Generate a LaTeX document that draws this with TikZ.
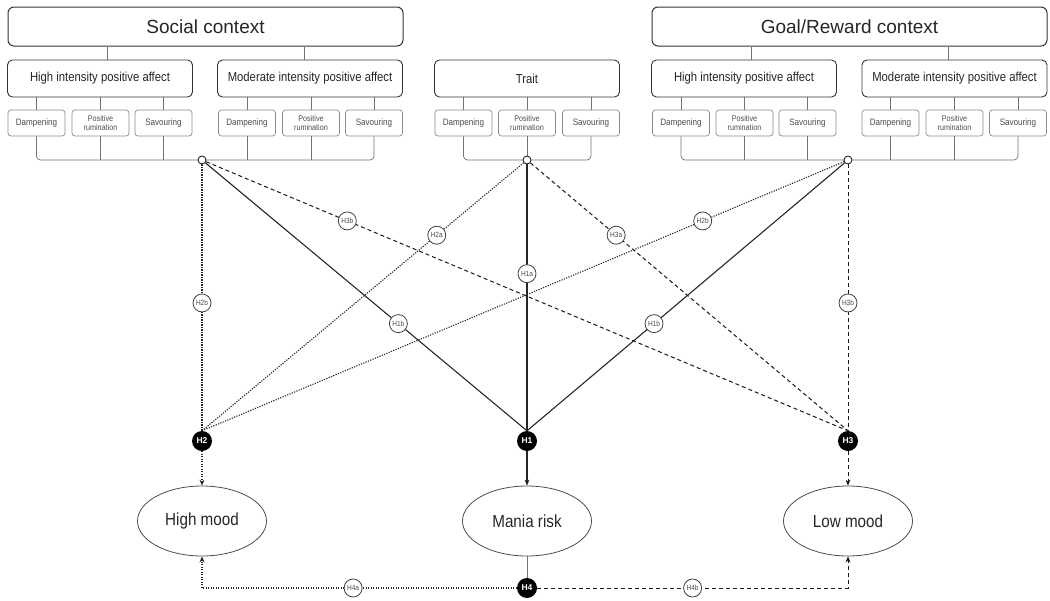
\documentclass[tikz,border=0pt]{standalone}
\usepackage{fontspec}
\usetikzlibrary{arrows.meta,shapes.geometric}
\newfontfamily\hfont{Liberation Sans}
\newfontfamily\nfont[FakeStretch=0.87]{Liberation Sans}
\begin{document}
\begin{tikzpicture}[x=1pt,y=-1pt,
  header/.style={draw=black!80,line width=1pt,rounded corners=6pt,minimum width=395pt,minimum height=39pt,inner sep=0pt,font=\hfont\fontsize{19}{22}\selectfont,text=black!85},
  midbox/.style={draw=black!80,line width=0.9pt,rounded corners=5pt,minimum width=185pt,minimum height=37pt,inner sep=0pt,font=\nfont\fontsize{13}{15}\selectfont,text=black!85},
  smallbox/.style={draw=black!45,line width=0.7pt,rounded corners=3pt,minimum width=57pt,minimum height=26pt,inner sep=0pt,font=\nfont\fontsize{9.3}{10}\selectfont,text=black!70,align=center},
  twobox/.style={smallbox,font=\nfont\fontsize{8.3}{8.8}\selectfont},
  conn/.style={draw=black!55,line width=0.7pt},
  src/.style={circle,draw=black!85,fill=white,line width=0.9pt,minimum size=8pt,inner sep=0pt},
  hyp/.style={circle,fill=black,text=white,minimum size=20pt,inner sep=0pt,font=\hfont\bfseries\fontsize{8.5}{9}\selectfont},
  lab/.style={circle,draw=black!75,fill=white,line width=0.8pt,minimum size=18pt,inner sep=0pt,font=\nfont\fontsize{7.5}{8}\selectfont,text=black!70},
  outc/.style={ellipse,draw=black!70,line width=0.8pt,minimum width=129pt,minimum height=70pt,inner sep=0pt,font=\nfont\fontsize{17.5}{20}\selectfont,text=black!85},
  solidl/.style={draw=black!85,line width=1.1pt},
  dashl/.style={draw=black!90,line width=1pt,dash pattern=on 4pt off 3pt},
  dotl/.style={draw=black!85,line width=1.1pt,dash pattern=on 1.2pt off 1.3pt},
  arr/.style={-{Stealth[length=6pt,width=5pt]}}
]
\useasboundingbox (0,0) rectangle (1050,600);

% ---- Social context group
\node[header] (soc) at (205.5,26.5) {Social context};
\node[midbox] (shi) at (100,78.5) {High intensity positive affect};
\node[midbox] (smo) at (310,78.5) {Moderate intensity positive affect};
\node[smallbox] (s1d) at (36.5,123) {Dampening};
\node[twobox] (s1p) at (100.5,123) {Positive\\rumination};
\node[smallbox] (s1s) at (163.5,123) {Savouring};
\node[smallbox] (s2d) at (247,123) {Dampening};
\node[twobox] (s2p) at (311,123) {Positive\\rumination};
\node[smallbox] (s2s) at (374,123) {Savouring};

% ---- Trait group
\node[midbox] (tra) at (527,78.5) {Trait};
\node[smallbox] (t1d) at (463.5,123) {Dampening};
\node[twobox] (t1p) at (527,123) {Positive\\rumination};
\node[smallbox] (t1s) at (591,123) {Savouring};

% ---- Goal/Reward group
\node[header] (goal) at (849.5,26.5) {Goal/Reward context};
\node[midbox] (ghi) at (744,78.5) {High intensity positive affect};
\node[midbox] (gmo) at (954.5,78.5) {Moderate intensity positive affect};
\node[smallbox] (g1d) at (681,123) {Dampening};
\node[twobox] (g1p) at (744.5,123) {Positive\\rumination};
\node[smallbox] (g1s) at (807.5,123) {Savouring};
\node[smallbox] (g2d) at (890.5,123) {Dampening};
\node[twobox] (g2p) at (954.5,123) {Positive\\rumination};
\node[smallbox] (g2s) at (1018,123) {Savouring};

% ---- tree connectors
\draw[conn] ([xshift=7pt]shi.north) -- ([xshift=7pt]shi.north |- soc.south);
\draw[conn] ([xshift=-6pt]smo.north) -- ([xshift=-6pt]smo.north |- soc.south);
\draw[conn] ([xshift=7pt]ghi.north) -- ([xshift=7pt]ghi.north |- goal.south);
\draw[conn] ([xshift=-6.5pt]gmo.north) -- ([xshift=-6.5pt]gmo.north |- goal.south);
\foreach \b/\m in {s1d/shi,s1p/shi,s1s/shi,s2d/smo,s2p/smo,s2s/smo,t1d/tra,t1p/tra,t1s/tra,g1d/ghi,g1p/ghi,g1s/ghi,g2d/gmo,g2p/gmo,g2s/gmo}
  \draw[conn] (\b.north) -- (\b.north |- \m.south);

\coordinate (Sc) at (202,160);
\coordinate (Tc) at (527,160);
\coordinate (Gc) at (848,160);
\draw[conn,rounded corners=4pt] (s1d.south) -- (s1d.south |- Sc) -- (s2s.south |- Sc) -- (s2s.south);
\foreach \b in {s1p,s1s,s2d,s2p} \draw[conn] (\b.south) -- (\b.south |- Sc);
\draw[conn,rounded corners=4pt] (t1d.south) -- (t1d.south |- Tc) -- (t1s.south |- Tc) -- (t1s.south);
\draw[conn] (t1p.south) -- (Tc);
\draw[conn,rounded corners=4pt] (g1d.south) -- (g1d.south |- Gc) -- (g2s.south |- Gc) -- (g2s.south);
\foreach \b in {g1p,g1s,g2d,g2p} \draw[conn] (\b.south) -- (\b.south |- Gc);

\node[src] (S) at (Sc) {};
\node[src] (T) at (Tc) {};
\node[src] (G) at (Gc) {};

% ---- hypothesis nodes and outcomes
\node[hyp] (H2) at (202,441) {H2};
\node[hyp] (H1) at (527,441) {H1};
\node[hyp] (H3) at (848,441) {H3};
\node[outc] (hm) at (202,521) {High mood};
\node[outc] (mr) at (527,521) {Mania risk};
\node[outc] (lm) at (848,521) {Low mood};
\node[hyp] (H4) at (527,588) {H4};

% ---- paths
\draw[dotl] (S) -- coordinate[pos=0.52] (cSa) (H2.north);
\draw[solidl] (S) -- coordinate[pos=0.6] (cSb) (H1.north);
\draw[dashl] (S) -- coordinate[pos=0.22] (cSc) (H3.north);
\draw[dotl] (T) -- coordinate[pos=0.27] (cTa) (H2.north);
\draw[solidl] (T) -- coordinate[pos=0.41] (cTb) (H1.north);
\draw[dashl] (T) -- coordinate[pos=0.27] (cTc) (H3.north);
\draw[dotl] (G) -- coordinate[pos=0.22] (cGa) (H2.north);
\draw[solidl] (G) -- coordinate[pos=0.6] (cGb) (H1.north);
\draw[dashl] (G) -- coordinate[pos=0.52] (cGc) (H3.north);

\draw[dotl,arr] (H2) -- (hm.north);
\draw[solidl,arr] (H1) -- (mr.north);
\draw[dashl,arr] (H3) -- (lm.north);
\draw[conn] (mr.south) -- (H4);
\draw[dotl,arr] (H4) -| coordinate[pos=0.26] (c4a) (hm.south);
\draw[dashl,arr] (H4) -| coordinate[pos=0.25] (c4b) (lm.south);

% ---- labels on paths
\node[lab] (lH2bS) at (cSa) {H2b};
\node[lab] (lH1bS) at (cSb) {H1b};
\node[lab] (lH3bS) at (cSc) {H3b};
\node[lab] (lH2a) at (cTa) {H2a};
\node[lab] (lH1a) at (cTb) {H1a};
\node[lab] (lH3a) at (cTc) {H3a};
\node[lab] (lH2bG) at (cGa) {H2b};
\node[lab] (lH1bG) at (cGb) {H1b};
\node[lab] (lH3bG) at (cGc) {H3b};
\node[lab] (lH4a) at (c4a) {H4a};
\node[lab] (lH4b) at (c4b) {H4b};
\end{tikzpicture}
\end{document}
